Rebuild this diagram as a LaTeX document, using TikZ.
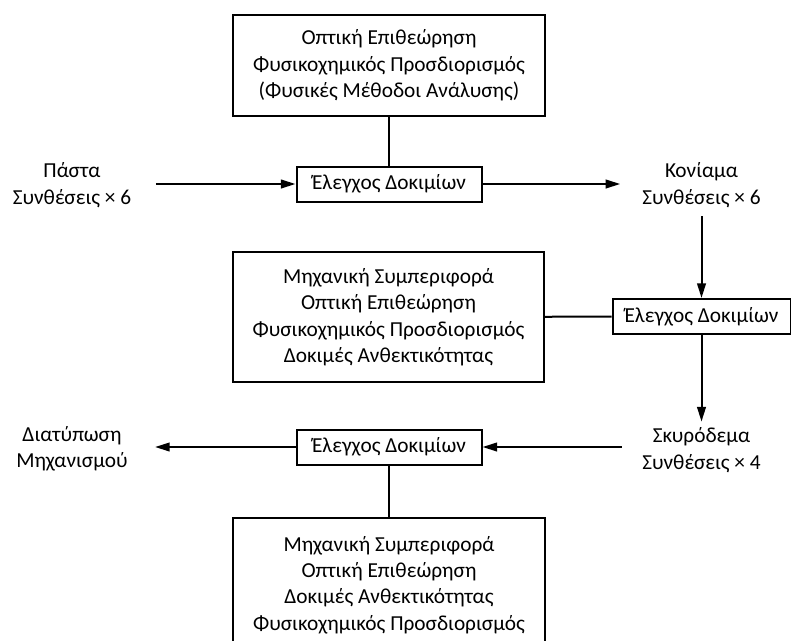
\documentclass[tikz,border=0pt]{standalone}
\usepackage{fontspec}
\setmainfont{Carlito}
\usetikzlibrary{positioning,arrows.meta}

\begin{document}
\begin{tikzpicture}[
      x=0.75pt, y=-0.75pt,
      every node/.style={align=center, font=\fontsize{16}{19.8}\selectfont},
      infobox/.style={draw, line width=1.5pt, minimum width=233.5pt},
      testbox/.style={draw, line width=1.5pt, minimum width=138.75pt, minimum height=26.25pt, inner sep=1pt},
      link/.style={line width=1.5pt},
      arrow/.style={line width=1.5pt, -{Triangle[length=11pt,width=6.5pt]}}
    ]
      \useasboundingbox (0,0) rectangle (791,640);
      \clip (0,0) rectangle (791,640);

      % Test stages
      \node[testbox] (test1) at (389,184) {Έλεγχος Δοκιμίων};
      \node[testbox, minimum width=133.5pt] (test2) at (701.5,316.5) {Έλεγχος Δοκιμίων};
      \node[testbox] (test3) at (389,447) {Έλεγχος Δοκιμίων};

      % Methods
      \node[infobox, minimum height=75.75pt] (methods1) at (389,65.5)
        {Οπτική Επιθεώρηση\\Φυσικοχημικός Προσδιορισμός\\(Φυσικές Μέθοδοι Ανάλυσης)};
      \node[infobox, minimum height=97.5pt] (methods2) at (388.5,317)
        {Μηχανική Συμπεριφορά\\Οπτική Επιθεώρηση\\Φυσικοχημικός Προσδιορισμός\\Δοκιμές Ανθεκτικότητας};
      \node[infobox, minimum height=100.5pt] (methods3) at (389,585)
        {Μηχανική Συμπεριφορά\\Οπτική Επιθεώρηση\\Δοκιμές Ανθεκτικότητας\\Φυσικοχημικός Προσδιορισμός};

      % Materials
      \node (paste) at (72,185) {Πάστα\\Συνθέσεις × 6};
      \node (mortar) at (701.5,185) {Κονίαμα\\Συνθέσεις × 6};
      \node (concrete) at (701.5,450) {Σκυρόδεμα\\Συνθέσεις × 4};
      \node (mechanism) at (72,449) {Διατύπωση\\Μηχανισμού};

      \draw[link] (methods1) -- (test1);
      \draw[link] (methods2) -- (test2);
      \draw[link] (test3) -- (methods3);

      \draw[arrow, shorten <=15pt] (paste.east |- test1) -- (test1);
      \draw[arrow, shorten >=13pt] (test1) -- (mortar.west |- test1);
      \draw[arrow, shorten <=3pt] (mortar) -- (test2);
      \draw[arrow, shorten >=1pt] (test2) -- (concrete);
      \draw[arrow, shorten <=12pt] (concrete.west |- test3) -- (test3);
      \draw[arrow, shorten >=17pt] (test3) -- (mechanism.east |- test3);

    \end{tikzpicture}
\end{document}
